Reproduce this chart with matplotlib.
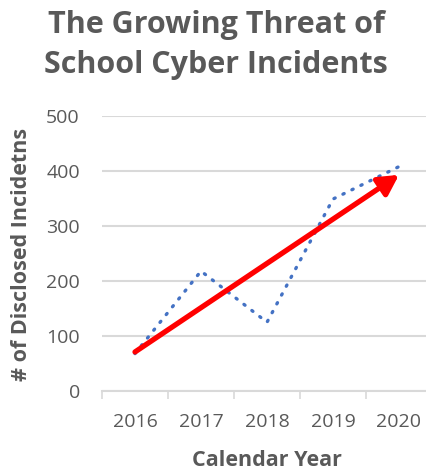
import matplotlib
matplotlib.use("Agg")
import matplotlib.pyplot as plt

years = ["2016", "2017", "2018", "2019", "2020"]
incidents = [68, 218, 125, 349, 408]
trend_start = 71
trend_end = 393
yticks = [0, 100, 200, 300, 400, 500]

gray = "#595959"
W, H = 427, 472
fig = plt.figure(figsize=(W / 100, H / 100), dpi=100)
ax = fig.add_axes([102 / W, 1 - 391 / H, 330 / W, 275 / H])

x = list(range(len(years)))
ax.plot(x, incidents, color="#4472C4", linewidth=2.4, linestyle=(0, (0.4, 2.6)),
        dash_capstyle="round", zorder=3)
ax.annotate("", xy=(x[-1], trend_end), xytext=(x[0], trend_start),
            arrowprops=dict(arrowstyle="-|>,head_length=1.2,head_width=0.65",
                            color="#FF0000", lw=3.8, capstyle="round",
                            shrinkA=0, shrinkB=0), zorder=4)

ax.set_xlim(-0.5, 4.5)
ax.set_ylim(0, 500)
ax.set_yticks(yticks)
ax.set_xticks(x)
ax.set_xticklabels(years)
ax.set_xticks([i - 0.5 for i in range(len(years) + 1)], minor=True)
ax.tick_params(axis="x", which="major", length=0, pad=16, labelsize=14, labelcolor=gray)
ax.tick_params(axis="x", which="minor", length=6, width=1.2, color="#d9d9d9")
ax.tick_params(axis="y", length=0, pad=16, labelsize=14, labelcolor=gray)
ax.grid(axis="y", color="#d9d9d9", linewidth=1.5)
ax.set_axisbelow(True)
for s in ["left", "right", "top"]:
    ax.spines[s].set_visible(False)
ax.spines["bottom"].set_color("#d9d9d9")
ax.spines["bottom"].set_linewidth(1.5)

for lab in ax.get_xticklabels() + ax.get_yticklabels():
    lab.set_family("Open Sans")

fig.text(267 / W, 1 - 460 / H, "Calendar Year", fontsize=15.5, fontweight="bold",
         color=gray, family="Open Sans", ha="center", va="center")
fig.text(22 / W, 1 - 254 / H, "# of Disclosed Incidetns", rotation=90, fontsize=15.5,
         fontweight="bold", color=gray, family="Open Sans", ha="center", va="center")
fig.text(216 / W, 1 - 33 / H, "The Growing Threat of", fontsize=22, fontweight="bold",
         color=gray, family="Open Sans", ha="center", va="baseline")
fig.text(216 / W, 1 - 73 / H, "School Cyber Incidents", fontsize=22, fontweight="bold",
         color=gray, family="Open Sans", ha="center", va="baseline")

fig.savefig("out.png", dpi=100)
